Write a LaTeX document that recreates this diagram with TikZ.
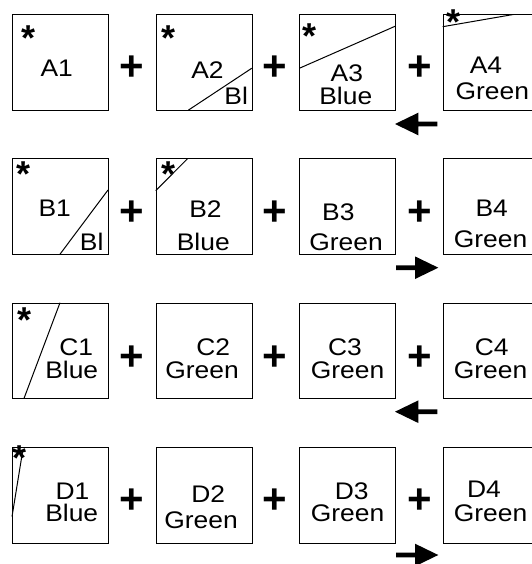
\documentclass[tikz,border=0pt]{standalone}
\usepackage{fontspec}
\setmainfont{Liberation Sans}[FakeStretch=1.1]
\newfontfamily\symfnt{Liberation Sans}
\begin{document}
\begin{tikzpicture}[x=1pt,y=-1pt,
  box/.style={draw=black,line width=1pt,minimum width=96pt,minimum height=95.7pt,inner sep=0pt,anchor=north west},
  lbl/.style={anchor=base,inner sep=0pt,text height=17pt,text depth=0pt,font=\fontsize{24}{24}\selectfont},
  ast/.style={anchor=base,inner sep=0pt,font=\symfnt\bfseries\fontsize{36}{36}\selectfont},
  plussign/.style={anchor=base,inner sep=0pt,font=\symfnt\bfseries\fontsize{42}{42}\selectfont},
  divline/.style={line width=1pt},
  larrow/.pic={\fill (0,0) -- (23.3,-11.3) -- (23.3,-2.4) -- (42.3,-2.4) -- (42.3,2.4) -- (23.3,2.4) -- (23.3,11.3) -- cycle;},
  rarrow/.pic={\fill (0,0) -- (-23.3,-11.3) -- (-23.3,-2.4) -- (-42.3,-2.4) -- (-42.3,2.4) -- (-23.3,2.4) -- (-23.3,11.3) -- cycle;}]
\useasboundingbox (0,0) rectangle (531,564);
% boxes
\node[box] (a1) at (12,14.5) {};
\node[box] (a2) at (155.7,14.5) {};
\node[box] (a3) at (299.3,14.5) {};
\node[box] (a4) at (442.7,14.5) {};
\node[box] (b1) at (12,158.5) {};
\node[box] (b2) at (155.7,158.5) {};
\node[box] (b3) at (299.3,158.5) {};
\node[box] (b4) at (442.7,158.5) {};
\node[box] (c1) at (12,302.7) {};
\node[box] (c2) at (155.7,302.7) {};
\node[box] (c3) at (299.3,302.7) {};
\node[box] (c4) at (442.7,302.7) {};
\node[box] (d1) at (12,447) {};
\node[box] (d2) at (155.7,447) {};
\node[box] (d3) at (299.3,447) {};
\node[box] (d4) at (442.7,447) {};
% dividing lines
\draw[divline] (188.3,110.2) -- (251.7,68.3);
\draw[divline] (299.3,68.3) -- (395.7,26);
\draw[divline] (442.7,26.7) -- (513.3,14.5);
\draw[divline] (60,254.2) -- (108,190);
\draw[divline] (155.7,190.7) -- (187.7,158.5);
\draw[divline] (60,302.7) -- (24,398.4);
\draw[divline] (22.5,452) -- (12,516.7);
% asterisks
\node[ast] (sa1) at (28.3,50.7) {*};
\node[ast] (sa2) at (168.3,50.7) {*};
\node[ast] (sa3) at (309,48.3) {*};
\node[ast] (sa4) at (453.3,35) {*};
\node[ast] (sb1) at (24,186.7) {*};
\node[ast] (sb2) at (169,186.7) {*};
\node[ast] (sc1) at (25,332.7) {*};
\node[ast] (sd1) at (19.3,470) {*};
% labels
\node[lbl] (ta1) at (56.7,76.7) {A1};
\node[lbl] (ta2) at (207.5,78.3) {A2};
\node[lbl] (ua2) at (236.2,105) {Bl};
\node[lbl] (ta3) at (346.8,81.7) {A3};
\node[lbl] (ua3) at (345.8,105) {Blue};
\node[lbl] (ta4) at (486,73.3) {A4};
\node[lbl] (ua4) at (492.3,99.3) {Green};
\node[lbl] (tb1) at (54.7,216.7) {B1};
\node[lbl] (ub1) at (91.7,250) {Bl};
\node[lbl] (tb2) at (205.5,217.3) {B2};
\node[lbl] (ub2) at (203.3,250) {Blue};
\node[lbl] (tb3) at (338.3,220) {B3};
\node[lbl] (ub3) at (346,250.7) {Green};
\node[lbl] (tb4) at (491.7,216.7) {B4};
\node[lbl] (ub4) at (490.5,247) {Green};
\node[lbl] (tc1) at (76.3,355.3) {C1};
\node[lbl] (uc1) at (71.7,378) {Blue};
\node[lbl] (tc2) at (213.3,355.3) {C2};
\node[lbl] (uc2) at (202,378) {Green};
\node[lbl] (tc3) at (345,355.5) {C3};
\node[lbl] (uc3) at (347.5,378) {Green};
\node[lbl] (tc4) at (491.7,355.5) {C4};
\node[lbl] (uc4) at (490.5,378) {Green};
\node[lbl] (td1) at (72.5,499.2) {D1};
\node[lbl] (ud1) at (71.7,521.8) {Blue};
\node[lbl] (td2) at (208.3,502.7) {D2};
\node[lbl] (ud2) at (201,528) {Green};
\node[lbl] (td3) at (351.7,499.3) {D3};
\node[lbl] (ud3) at (347.5,521.8) {Green};
\node[lbl] (td4) at (484,497.3) {D4};
\node[lbl] (ud4) at (490.5,521.7) {Green};
% plus signs
\foreach \r/\y in {a/81,b/225.5,c/370,d/513.5}{
  \node[plussign] (p\r1) at (131.3,\y) {+};
  \node[plussign] (p\r2) at (275,\y) {+};
  \node[plussign] (p\r3) at (419.3,\y) {+};
}
% direction arrows
\pic at (395,124) {larrow};
\pic at (438.3,267.7) {rarrow};
\pic at (395,411.7) {larrow};
\pic at (438.3,555) {rarrow};
\end{tikzpicture}
\end{document}
